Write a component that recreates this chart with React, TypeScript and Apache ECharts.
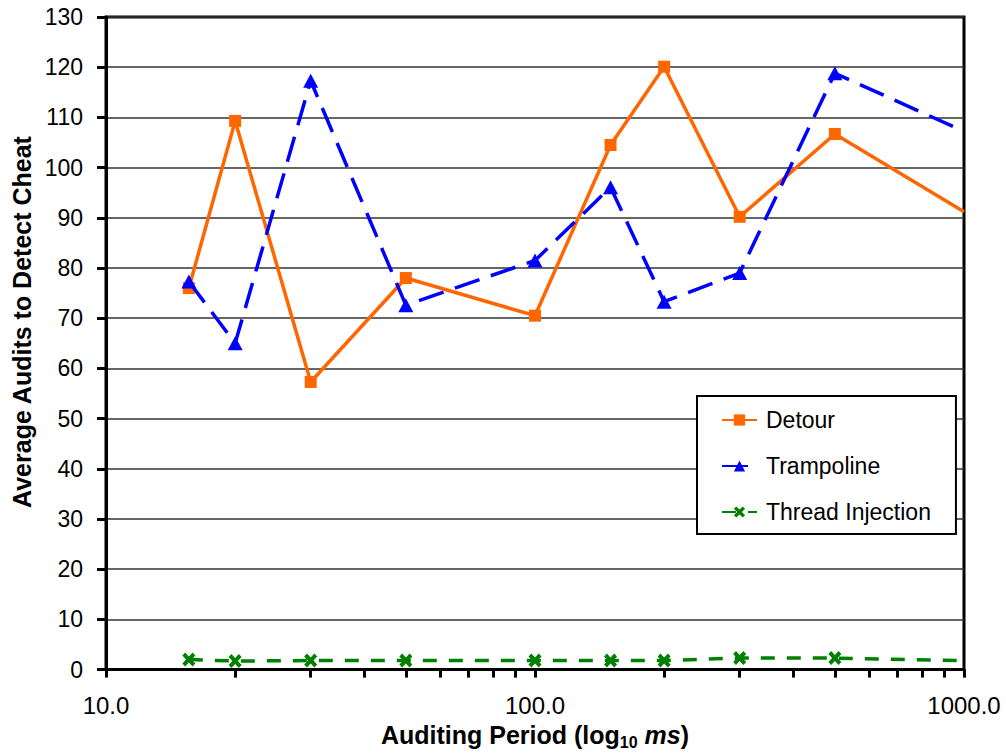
import React, { useEffect, useRef } from 'react';
import * as echarts from 'echarts';

const periods = [15.6, 20, 30, 50, 100, 150, 200, 300, 500, 1000];
const detour = [76.0, 109.3, 57.3, 78.0, 70.5, 104.5, 120.1, 90.2, 106.7, 91.2];
const trampoline = [77.3, 65.0, 117.3, 72.6, 81.5, 96.1, 73.3, 79.0, 118.8, 107.2];
const threadInjection = [2.0, 1.7, 1.8, 1.8, 1.8, 1.8, 1.8, 2.3, 2.3, 1.8];
const seriesNames = ['Detour', 'Trampoline', 'Thread Injection'];
const xLabelValues = [10, 100, 1000];
const xTickValues = [10, 20, 30, 40, 50, 60, 70, 80, 90, 100, 200, 300, 400, 500, 600, 700, 800, 900, 1000];
const yAxisTitle = 'Average Audits to Detect Cheat';

const FONT = "'Liberation Sans', Arial, Helvetica, sans-serif";
const X_SYMBOL = 'path://M0,3 L3,0 L7,4 L11,0 L14,3 L10,7 L14,11 L11,14 L7,10 L3,14 L0,11 L4,7 Z';

function toData(vals: number[]) {
  return periods.map((p, i) => {
    const item: any = { value: [p, vals[i]] };
    if (i === periods.length - 1) item.symbol = 'none';
    return item;
  });
}

export default function App() {
  const ref = useRef<HTMLDivElement>(null);
  useEffect(() => {
    if (!ref.current) return;
    const chart = echarts.init(ref.current, undefined, { renderer: 'svg' });
    const option: any = {
      animation: false,
      backgroundColor: '#ffffff',
      grid: {
        left: 106, right: 42, top: 17, bottom: 85,
        show: true, borderColor: '#000', borderWidth: 3, backgroundColor: 'transparent',
      },
      xAxis: {
        type: 'log', logBase: 10, min: 10, max: 1000,
        name: '{b|Auditing Period (log}{s|10}{i| ms}{b|)}',
        nameLocation: 'middle', nameGap: 40,
        nameTextStyle: {
          rich: {
            b: { fontSize: 25, fontWeight: 'bold', fontFamily: FONT, color: '#000', lineHeight: 30, verticalAlign: 'middle' },
            s: { fontSize: 16, fontWeight: 'bold', fontFamily: FONT, color: '#000', lineHeight: 15, verticalAlign: 'bottom' },
            i: { fontSize: 25, fontWeight: 'bold', fontStyle: 'italic', fontFamily: FONT, color: '#000', lineHeight: 30, verticalAlign: 'middle' },
          },
        },
        axisLine: { show: true, onZero: false, lineStyle: { color: '#000', width: 3 } },
        axisTick: { show: true, inside: false, length: 8, customValues: xTickValues, lineStyle: { color: '#000', width: 3 } },
        axisLabel: {
          customValues: xLabelValues,
          formatter: (v: number) => Number(v).toFixed(1),
          fontSize: 24, color: '#000', fontFamily: FONT, margin: 24,
        },
        splitLine: { show: false },
      },
      yAxis: {
        type: 'value', min: 0, max: 130, interval: 10,
        axisLine: { show: true, lineStyle: { color: '#000', width: 3 } },
        axisTick: { show: true, inside: false, length: 9, lineStyle: { color: '#000', width: 3 } },
        axisLabel: { fontSize: 23, color: '#000', fontFamily: FONT, margin: 23 },
        splitLine: { show: true, lineStyle: { color: '#333', width: 1.5 } },
      },
      legend: {
        orient: 'vertical', left: 697, top: 396,
        backgroundColor: '#fff', borderColor: '#000', borderWidth: 2, borderRadius: 0,
        padding: [12, 25, 10, 24],
        itemWidth: 35, itemHeight: 14, itemGap: 22,
        textStyle: { fontSize: 23, color: '#000', fontFamily: FONT, lineHeight: 24, padding: [0, 0, 0, 4] },
        data: seriesNames,
      },
      graphic: [
        {
          type: 'text', x: 22, y: 322, rotation: Math.PI / 2,
          style: {
            text: yAxisTitle, fill: '#000',
            font: `bold 25px ${FONT}`, textAlign: 'center', textVerticalAlign: 'middle',
          },
        },
      ],
      series: [
        {
          name: seriesNames[0], type: 'line', data: toData(detour),
          symbol: 'rect', symbolSize: 12,
          lineStyle: { color: '#FF6600', width: 3.5 },
          itemStyle: { color: '#FF6600' },
          z: 2,
        },
        {
          name: seriesNames[1], type: 'line', data: toData(trampoline),
          symbol: 'triangle', symbolSize: [15, 14],
          lineStyle: { color: '#0000FF', width: 3.5, type: [26, 12] },
          itemStyle: { color: '#0000FF' },
          z: 3,
        },
        {
          name: seriesNames[2], type: 'line', data: toData(threadInjection),
          symbol: X_SYMBOL, symbolSize: [13, 14],
          lineStyle: { color: '#008000', width: 3.5, type: [14, 12] },
          itemStyle: { color: '#008000' },
          z: 4,
        },
      ],
    };
    chart.setOption(option);
    return () => chart.dispose();
  }, []);
  return <div ref={ref} style={{ position: 'absolute', left: 0, top: 0, width: 1006, height: 755 }} />;
}
